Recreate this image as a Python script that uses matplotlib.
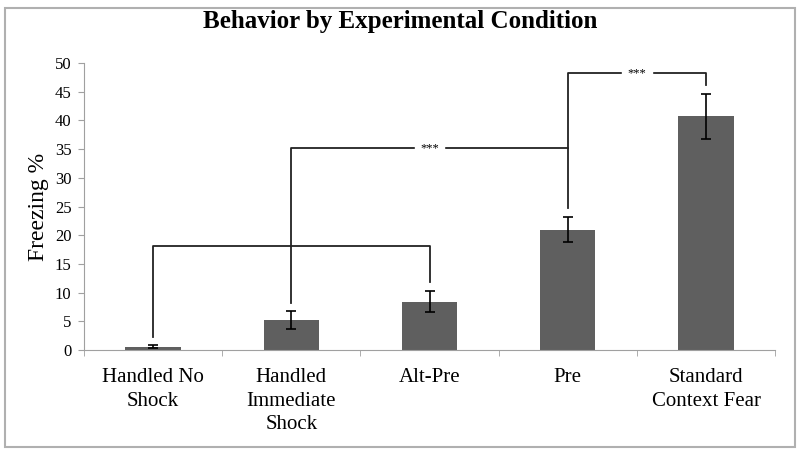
import matplotlib.pyplot as plt
from matplotlib.patches import Rectangle

categories = ["Handled No\nShock", "Handled\nImmediate\nShock", "Alt-Pre", "Pre", "Standard\nContext Fear"]
freezing = [0.6, 5.2, 8.4, 21.0, 40.7]
errors = [0.3, 1.6, 1.85, 2.1, 3.9]

# significance brackets: (left bar, right bar, left leg bottom, right leg bottom, top, label)
brackets = [
    (0, 2, 2.3, 11.9, 18.2, ""),
    (1, 3, 8.2, 24.7, 35.2, "***"),
    (3, 4, 35.2, 46.2, 48.2, "***"),
]

plt.rcParams['font.family'] = 'Liberation Serif'

fig = plt.figure(figsize=(8, 4.54), dpi=100)
ax = fig.add_axes([0.105, 0.229, 0.864, 0.632])

x = list(range(len(categories)))
ax.bar(x, freezing, width=0.4, color='#5f5f5f', zorder=2)
ax.errorbar(x, freezing, yerr=errors, fmt='none', ecolor='black', elinewidth=1.2,
            capsize=3.5, capthick=1.2, zorder=3)

for l, r, lb, rb, top, lab in brackets:
    ax.plot([l, l, r, r], [lb, top, top, rb], color='#222222', lw=1.3, zorder=1)
    if lab:
        mid = (l + r) / 2
        ax.text(mid, top, lab, ha='center', va='center', fontsize=9,
                backgroundcolor='white', zorder=2)

ax.set_xlim(-0.5, 4.5)
ax.set_ylim(0, 50)
ax.set_yticks(range(0, 51, 5))
ax.set_xticks(x)
ax.set_xticklabels(categories, fontsize=15, linespacing=1.32)
ax.set_xticks([i - 0.5 for i in range(len(categories) + 1)], minor=True)
ax.tick_params(axis='x', which='major', length=0, pad=13)
ax.tick_params(axis='x', which='minor', length=4, color='#a0a0a0', direction='out')
ax.tick_params(axis='y', length=4, color='#a0a0a0', labelsize=12, pad=5)
ax.set_ylabel("Freezing %", fontsize=17, labelpad=4)
for s in ['top', 'right']:
    ax.spines[s].set_visible(False)
for s in ['left', 'bottom']:
    ax.spines[s].set_color('#a0a0a0')

fig.suptitle("Behavior by Experimental Condition", fontsize=18, fontweight='bold', y=0.978)
fig.patches.append(Rectangle((0.006, 0.015), 0.988, 0.968, transform=fig.transFigure,
                             fill=False, edgecolor='#b0b0b0', lw=1.5))

fig.savefig("out.png")
